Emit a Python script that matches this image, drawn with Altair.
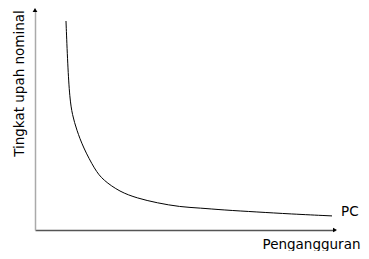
import altair as alt
import pandas as pd

# Curve (Phillips curve), in arbitrary 0-100 units
curve_x = [10.33, 10.9, 11.57, 12.43, 13.9, 16.0, 20.0, 22.67, 28.33, 34.0, 40.67, 48.33, 55.0, 62.67, 74.0, 85.0, 99.0]
curve_y = [95.0, 75.0, 60.0, 52.3, 45.5, 37.7, 27.3, 22.7, 17.3, 14.5, 12.3, 10.5, 10.0, 9.1, 8.2, 7.3, 6.4]

label_text = ["PC"]
x_title = "Pengangguran"
y_title = "Tingkat upah nominal"

df = pd.DataFrame({"x": curve_x, "y": curve_y})
lab = pd.DataFrame({"x": [curve_x[-1]], "y": [curve_y[-1]], "t": label_text})
arrow_up = pd.DataFrame({"x": [0], "y": [100]})
arrow_right = pd.DataFrame({"x": [100], "y": [0]})

xs = alt.Scale(domain=[0, 100], nice=False, zero=False)
ys = alt.Scale(domain=[0, 100], nice=False, zero=False)

font = "Verdana, 'DejaVu Sans', sans-serif"
fs = 13.5

line = alt.Chart(df).mark_line(color="black", strokeWidth=1, interpolate="basis").encode(
    x=alt.X("x:Q", scale=xs, axis=alt.Axis(
        title=x_title, domainColor="#555555", domainWidth=1.5, ticks=False, labels=False, grid=False,
        titleFont=font, titleFontSize=fs, titleFontWeight="normal", titleColor="black",
        titleAlign="right", titleX=325, titleY=18, titleBaseline="alphabetic")),
    y=alt.Y("y:Q", scale=ys, axis=alt.Axis(
        title=y_title, domainColor="#aaaaaa", domainWidth=1.5, ticks=False, labels=False, grid=False,
        titleFont=font, titleFontSize=fs, titleFontWeight="normal", titleColor="black",
        titleAngle=-90, titleAlign="center", titleX=-16, titleY=73, titleBaseline="middle")),
)

pc = alt.Chart(lab).mark_text(align="left", baseline="middle", dx=9, dy=-4, font=font, fontSize=fs, color="black").encode(
    x=alt.X("x:Q", scale=xs), y=alt.Y("y:Q", scale=ys), text="t:N")

up = alt.Chart(arrow_up).mark_point(shape="triangle-up", filled=True, color="black", size=22, opacity=1).encode(
    x=alt.X("x:Q", scale=xs), y=alt.Y("y:Q", scale=ys))
right = alt.Chart(arrow_right).mark_point(shape="triangle-right", filled=True, color="black", size=22, opacity=1).encode(
    x=alt.X("x:Q", scale=xs), y=alt.Y("y:Q", scale=ys))

chart = alt.layer(line, pc, up, right).properties(
    width=300, height=220,
    autosize=alt.AutoSizeParams(type="none"),
    padding={"left": 27, "top": 2, "right": 26, "bottom": 21},
).configure(background="white", view=alt.ViewConfig(stroke=None))

chart.save("out.html", embed_options={"renderer": "svg", "actions": False})
